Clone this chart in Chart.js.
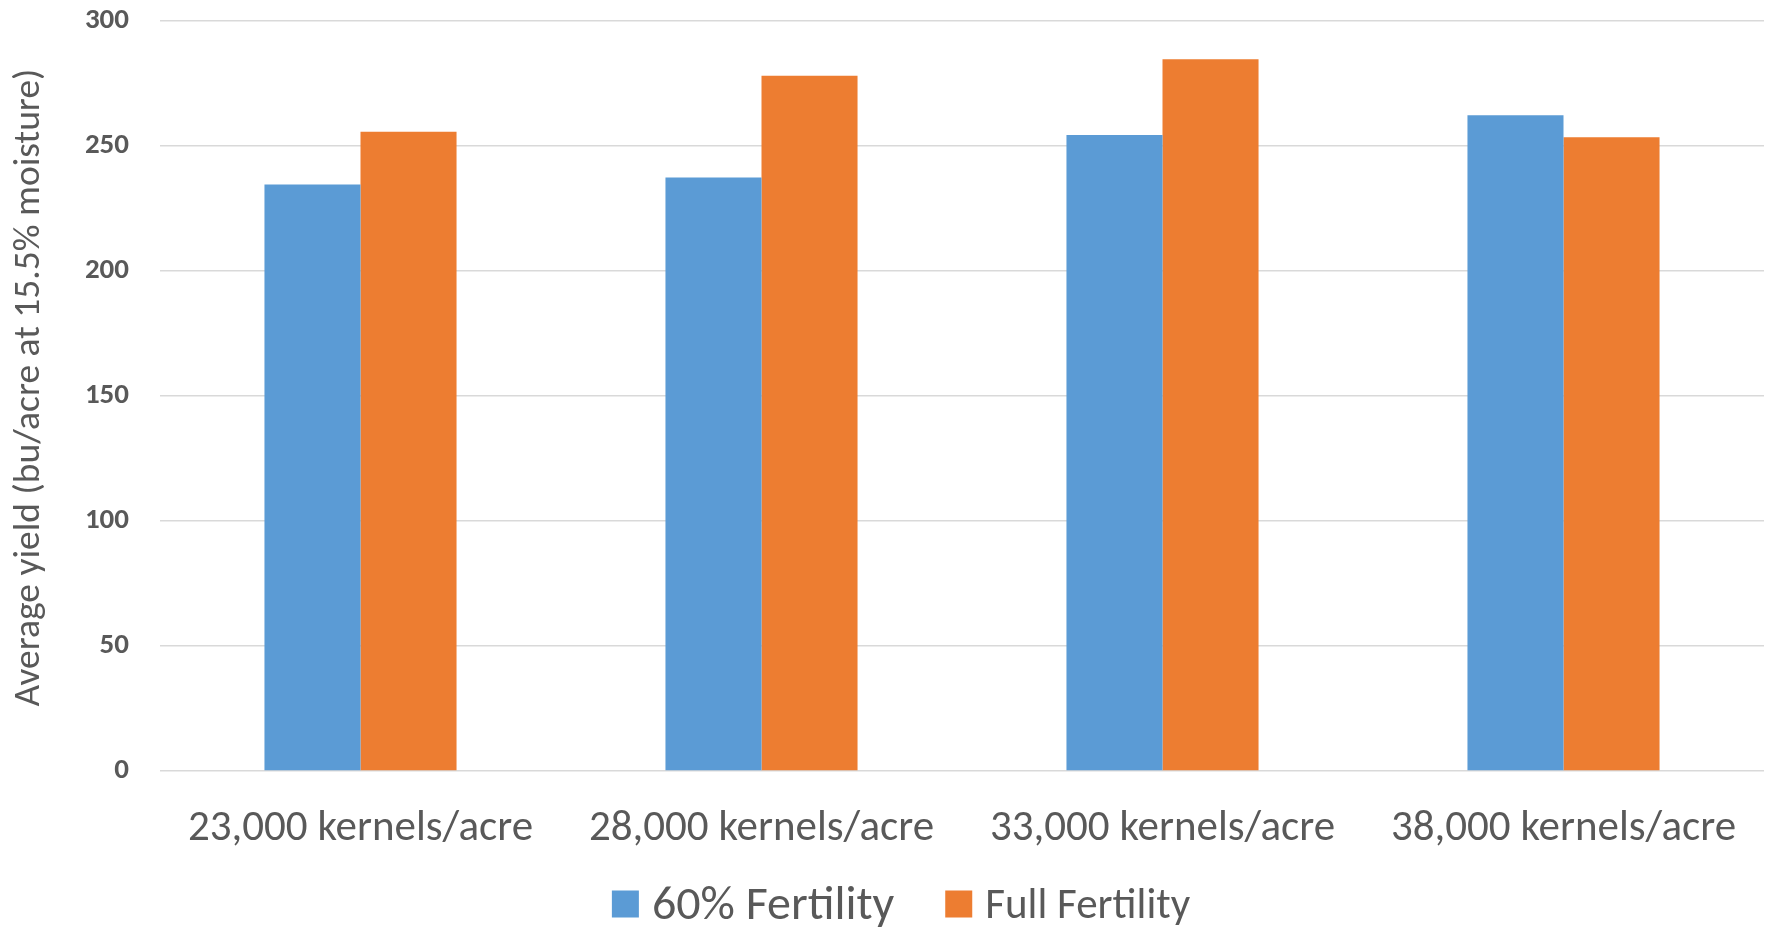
<!DOCTYPE html>
<html>
<head>
<meta charset="utf-8">
<title>Average yield by seeding rate</title>
<script src="https://cdn.jsdelivr.net/npm/chart.js@4.4.0/dist/chart.umd.min.js"></script>
<style>
  html, body { margin: 0; padding: 0; background: #fff; }
  canvas { display: block; }
</style>
</head>
<body>
<canvas id="yieldChart" width="1771" height="927"></canvas>
<script>
// seeding rates on the x axis, yields in bu/acre
const seedingRates = ['23,000 kernels/acre', '28,000 kernels/acre', '33,000 kernels/acre', '38,000 kernels/acre'];
const lowFertilityYield = [234.6, 237.4, 254.4, 262.3];
const fullFertilityYield = [255.7, 278.1, 284.7, 253.5];
const seriesNames = ['60% Fertility', 'Full Fertility'];
const yMin = 0;
const yMax = 300;
const yStep = 50;

const FONT = "Carlito, Calibri, 'Liberation Sans Narrow', 'Open Sans', sans-serif";
const TEXT_COLOR = '#595959';
const BLUE = '#5B9BD5';
const ORANGE = '#ED7D31';

// legend under the chart; first entry is drawn a bit larger
const legendSizes = [48, 43];

const bottomLegend = {
    id: 'bottomLegend',
    afterDraw(chart) {
        const ctx = chart.ctx;
        const box = 27, gap = 13, itemGap = 51, cy = 907, centerX = 901;
        const items = chart.data.datasets.map((ds, i) => ({
            text: ds.label,
            color: ds.backgroundColor,
            size: legendSizes[i]
        }));
        ctx.save();
        const widths = items.map(it => {
            ctx.font = `${it.size}px ${FONT}`;
            return box + gap + ctx.measureText(it.text).width;
        });
        const total = widths.reduce((a, b) => a + b, 0) + itemGap * (items.length - 1);
        let x = centerX - total / 2;
        items.forEach((it, i) => {
            ctx.fillStyle = it.color;
            ctx.fillRect(x, cy - 3 - box / 2, box, box);
            ctx.font = `${it.size}px ${FONT}`;
            ctx.fillStyle = TEXT_COLOR;
            ctx.textBaseline = 'middle';
            ctx.textAlign = 'left';
            ctx.fillText(it.text, x + box + gap, cy);
            x += widths[i] + itemGap;
        });
        ctx.restore();
    }
};

const ctx = document.getElementById('yieldChart').getContext('2d');
new Chart(ctx, {
    type: 'bar',
    data: {
        labels: seedingRates,
        datasets: [
            { label: seriesNames[0], data: lowFertilityYield, backgroundColor: BLUE },
            { label: seriesNames[1], data: fullFertilityYield, backgroundColor: ORANGE }
        ]
    },
    options: {
        responsive: false,
        animation: false,
        devicePixelRatio: 1,
        layout: { padding: { top: 21, right: 7, bottom: 76, left: 0 } },
        datasets: {
            bar: { categoryPercentage: 0.479, barPercentage: 1.0 }
        },
        scales: {
            x: {
                grid: { display: false },
                border: { display: false },
                ticks: {
                    color: TEXT_COLOR,
                    font: { family: FONT, size: 43 },
                    padding: 24,
                    maxRotation: 0,
                    autoSkip: false
                },
                afterFit(scale) { scale.height = 80; }
            },
            y: {
                min: yMin,
                max: yMax,
                grid: { color: '#d9d9d9', lineWidth: 1.5, drawTicks: false },
                border: { display: false },
                ticks: {
                    stepSize: yStep,
                    color: TEXT_COLOR,
                    font: { family: FONT, size: 29, weight: 'bold' },
                    padding: 31
                },
                title: {
                    display: true,
                    // leading spaces nudge the rotated title slightly upward
                    text: '  Average yield (bu/acre at 15.5% moisture)',
                    color: TEXT_COLOR,
                    font: { family: FONT, size: 37.5, lineHeight: 1 },
                    padding: { top: 11, bottom: 0 }
                },
                afterFit(scale) {
                    // keep the plot top at the layout padding instead of label overflow
                    scale.width = 160;
                    scale.paddingTop = 0;
                    scale.paddingBottom = 0;
                }
            }
        },
        plugins: {
            legend: { display: false },
            tooltip: { enabled: false }
        }
    },
    plugins: [bottomLegend]
});
</script>
</body>
</html>
